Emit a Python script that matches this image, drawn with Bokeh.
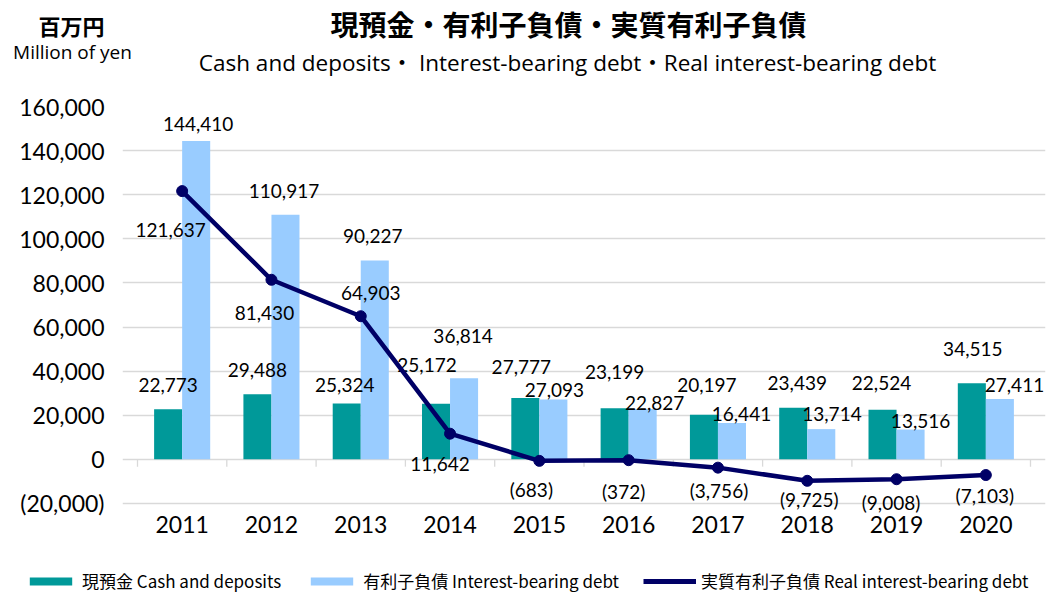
from bokeh.plotting import figure
from bokeh.models import (ColumnDataSource, FactorRange, Range1d, FixedTicker,
                          Label, Legend, LegendItem)
from bokeh.layouts import column
from bokeh.transform import dodge
from bokeh.core.properties import value
from bokeh.embed import file_html
from bokeh.resources import INLINE

# ---------------- data ----------------
years = ["2011", "2012", "2013", "2014", "2015", "2016", "2017", "2018", "2019", "2020"]
cash = [22773, 29488, 25324, 25172, 27777, 23199, 20197, 23439, 22524, 34515]
debt = [144410, 110917, 90227, 36814, 27093, 22827, 16441, 13714, 13516, 27411]
real_debt = [121637, 81430, 64903, 11642, -683, -372, -3756, -9725, -9008, -7103]
y_ticks = [-20000, 0, 20000, 40000, 60000, 80000, 100000, 120000, 140000, 160000]

# data-label placement (pixel offsets from the mark)
cash_dx = [0, 0, -2, -9, -4, 0, 3, 4, -1, 1]
cash_dy = [-24, -24.5, -18.5, -38.5, -31.5, -36.5, -29.5, -24.5, -26.5, -34.5]
debt_dx = [2, -1.5, -2, -1, 1, 12, 9.5, 10.7, 10, 14.6]
debt_dy = [-16.5, -23.5, -24.5, -42.5, -10, -6.5, -9.5, -15.5, -9, -13.5]
real_dx = [-11.5, -7, 10, -10, -8, -5, 1, 2, -5.5, -1]
real_dy = [38.5, 33.5, -23.5, 30.5, 28.5, 31, 22.5, 19, 23, 20.5]

TITLE = "現預金・有利子負債・実質有利子負債"
SUBTITLE = "Cash and deposits・ Interest-bearing debt・Real interest-bearing debt"
UNIT_JP = "百万円"
UNIT_EN = "Million of yen"
LEGEND_LABELS = ["現預金 Cash and deposits", "有利子負債 Interest-bearing debt",
                 "実質有利子負債 Real interest-bearing debt"]


def fmt(v):
    return f"({-v:,})" if v < 0 else f"{v:,}"


TEAL = "#009999"
LIGHT = "#99CCFF"
NAVY = "#000066"
GRID = "#D9D9D9"
NUM_FONT = "Lato"
JP_FONT = "Noto Sans CJK JP"
LAT_FONT = "'Open Sans', 'Noto Sans CJK JP'"

W = 1046
HEAD_H = 90
MAIN_H = 455
FOOT_H = 48

bare = dict(output_backend="svg", toolbar_location=None,
            x_axis_location=None, y_axis_location=None, frame_align=False,
            min_border=0, min_border_left=0, min_border_right=0,
            min_border_top=0, min_border_bottom=0)

# ---------------- header (titles) ----------------
head = figure(width=W, height=HEAD_H, x_range=Range1d(0, W), y_range=Range1d(0, HEAD_H), **bare)
head.grid.visible = False
head.outline_line_color = None
head.add_layout(Label(x=568, y=67, text=TITLE, text_align="center", text_baseline="middle",
                      text_font=JP_FONT, text_font_style="bold", text_font_size="28px",
                      text_color="#000000"))
head.add_layout(Label(x=567, y=28, text=SUBTITLE, text_align="center", text_baseline="middle",
                      text_font=LAT_FONT, text_font_size="22.5px", text_color="#000000"))
head.add_layout(Label(x=71, y=66, text=UNIT_JP, text_align="center", text_baseline="middle",
                      text_font=JP_FONT, text_font_style="bold", text_font_size="22px",
                      text_color="#000000"))
head.add_layout(Label(x=72, y=39, text=UNIT_EN, text_align="center", text_baseline="middle",
                      text_font=LAT_FONT, text_font_size="19px", text_color="#000000"))

# ---------------- main chart ----------------
src = ColumnDataSource(dict(
    years=years, cash=cash, debt=debt, real=real_debt,
    cash_lbl=[fmt(v) for v in cash], debt_lbl=[fmt(v) for v in debt],
    real_lbl=[fmt(v) for v in real_debt],
    cash_dx=cash_dx, cash_dy=cash_dy, debt_dx=debt_dx, debt_dy=debt_dy,
    real_dx=real_dx, real_dy=real_dy,
))

PAD = 0.168  # extra room (category units, each side) so edge labels are not clipped
p = figure(x_range=FactorRange(*years, range_padding=PAD, range_padding_units="absolute"),
           y_range=Range1d(-25000, 160000),
           width=W, height=MAIN_H, output_backend="svg", toolbar_location=None,
           frame_align=False,
           min_border_left=122, min_border_right=1, min_border_top=16,
           min_border_bottom=31)
p.outline_line_color = None

# grid
p.xgrid.grid_line_color = None
p.ygrid.ticker = FixedTicker(ticks=y_ticks)
p.ygrid.grid_line_color = GRID
p.ygrid.grid_line_width = 1.3
p.ygrid.bounds = (0, len(years))

# y axis
p.yaxis.ticker = FixedTicker(ticks=y_ticks)
p.yaxis.major_label_overrides = {t: fmt(t) for t in y_ticks}
p.yaxis.axis_line_color = None
p.yaxis.major_tick_line_color = None
p.yaxis.minor_tick_line_color = None
p.yaxis.major_tick_out = 0
p.yaxis.major_tick_in = 0
p.yaxis.major_label_standoff = 18
p.yaxis.major_label_text_font = NUM_FONT
p.yaxis.major_label_text_font_size = "23px"
p.yaxis.major_label_text_color = "#000000"

# x axis
p.xaxis.axis_line_color = None
p.xaxis.major_tick_line_color = None
p.xaxis.major_tick_out = 0
p.xaxis.major_tick_in = 0
p.xaxis.major_label_standoff = 1
p.xaxis.major_label_text_font = NUM_FONT
p.xaxis.major_label_text_font_size = "23px"
p.xaxis.major_label_text_color = "#000000"

# small tick marks on the zero line at category boundaries
p.segment(x0=dodge("years", -0.5, range=p.x_range), x1=dodge("years", -0.5, range=p.x_range),
          y0=0, y1=-3300, source=src, line_color=GRID, line_width=1.3)
p.segment(x0=dodge("years", 0.5, range=p.x_range), x1=dodge("years", 0.5, range=p.x_range),
          y0=0, y1=-3300, source=ColumnDataSource(dict(years=years[-1:])),
          line_color=GRID, line_width=1.3)

# bars
p.vbar(x=dodge("years", -0.157, range=p.x_range), top="cash", bottom=0, width=0.314,
       source=src, fill_color=TEAL, line_color=None)
p.vbar(x=dodge("years", 0.157, range=p.x_range), top="debt", bottom=0, width=0.314,
       source=src, fill_color=LIGHT, line_color=None)

# data labels
lbl_kw = dict(text_align="center", text_baseline="middle", text_font=value(NUM_FONT),
              text_font_size="19px", text_color="#000000", source=src)
p.text(x=dodge("years", -0.157, range=p.x_range), y="cash", text="cash_lbl",
       x_offset="cash_dx", y_offset="cash_dy", **lbl_kw)
p.text(x=dodge("years", 0.157, range=p.x_range), y="debt", text="debt_lbl",
       x_offset="debt_dx", y_offset="debt_dy", **lbl_kw)
p.text(x="years", y="real", text="real_lbl", x_offset="real_dx", y_offset="real_dy", **lbl_kw)

# line
p.line(x="years", y="real", source=src, line_color=NAVY, line_width=4.5)
p.scatter(x="years", y="real", source=src, size=11, fill_color=NAVY, line_color=NAVY)

# ---------------- footer (legend) ----------------
# legend swatches come from renderers whose data lies outside this strip's view
foot = figure(width=W, height=FOOT_H, x_range=Range1d(0, 1), y_range=Range1d(0, 1), **bare)
foot.grid.visible = False
foot.outline_line_color = None
lr_cash = foot.vbar(x="cash", top="debt", bottom="debt", width=1, source=src,
                    fill_color=TEAL, line_color=None)
lr_debt = foot.vbar(x="cash", top="debt", bottom="debt", width=1, source=src,
                    fill_color=LIGHT, line_color=None)
lr_line = foot.line(x="cash", y="debt", source=src, line_color=NAVY, line_width=5)
lr_pts = foot.scatter(x="cash", y="debt", source=src, size=11, fill_color=NAVY,
                      line_color=NAVY)

legend = Legend(items=[
    LegendItem(label=LEGEND_LABELS[0], renderers=[lr_cash]),
    LegendItem(label=LEGEND_LABELS[1], renderers=[lr_debt]),
    LegendItem(label=LEGEND_LABELS[2], renderers=[lr_line, lr_pts]),
], orientation="horizontal", location=(24, 0), glyph_width=53, glyph_height=10,
    label_standoff=5, spacing=24, padding=0, margin=0, border_line_color=None,
    background_fill_alpha=0, label_text_font=JP_FONT, label_text_font_size="17px",
    label_text_color="#000000", label_height=18)
foot.add_layout(legend)

layout = column(head, p, foot, spacing=0)
open("out.html", "w").write(file_html(layout, INLINE))
